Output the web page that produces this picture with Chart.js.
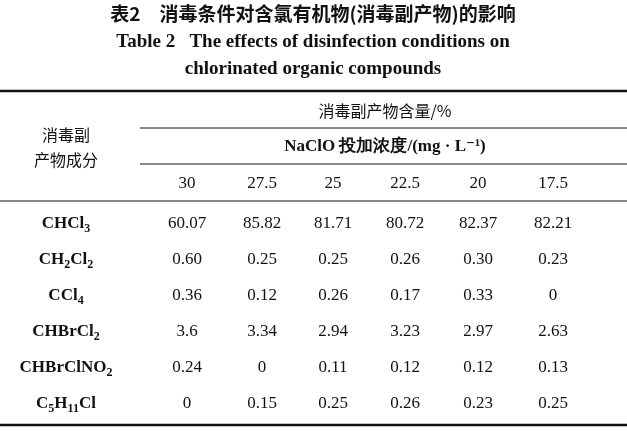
<!DOCTYPE html>
<html><head><meta charset="utf-8">
<script src="https://cdn.jsdelivr.net/npm/chart.js@4"></script>
<style>html,body{margin:0;padding:0;background:#fff}#c{display:block}</style>
</head><body>
<div style="width:627px;height:441px"><canvas id="c"></canvas></div>
<script>
let titleCn = "表2　消毒条件对含氯有机物(消毒副产物)的影响";
let titleEn1 = "Table 2   The effects of disinfection conditions on";
let titleEn2 = "chlorinated organic compounds";
let headGroup = "消毒副产物含量/%";
let headDose = "NaClO 投加浓度/(mg · L⁻¹)";
let headLeft = ["消毒副", "产物成分"];
let doses = ["30", "27.5", "25", "22.5", "20", "17.5"];
// compound names as [text, isSubscript] parts
let compounds = [
  [["CHCl", 0], ["3", 1]],
  [["CH", 0], ["2", 1], ["Cl", 0], ["2", 1]],
  [["CCl", 0], ["4", 1]],
  [["CHBrCl", 0], ["2", 1]],
  [["CHBrClNO", 0], ["2", 1]],
  [["C", 0], ["5", 1], ["H", 0], ["11", 1], ["Cl", 0]]
];
let values = [
  ["60.07", "85.82", "81.71", "80.72", "82.37", "82.21"],
  ["0.60", "0.25", "0.25", "0.26", "0.30", "0.23"],
  ["0.36", "0.12", "0.26", "0.17", "0.33", "0"],
  ["3.6", "3.34", "2.94", "3.23", "2.97", "2.63"],
  ["0.24", "0", "0.11", "0.12", "0.12", "0.13"],
  ["0", "0.15", "0.25", "0.26", "0.23", "0.25"]
];

// layout (scale units = page pixels)
const colX = [187, 262, 333, 405, 478, 553];
const rowY = [224, 260, 296, 332, 368, 404];
const serif = "'Liberation Serif', 'DejaVu Serif', serif";
const cjk = "'Noto Sans CJK SC', sans-serif";

const tablePlugin = {
  id: "table",
  afterDraw(chart) {
    const ctx = chart.ctx, xs = chart.scales.x, ys = chart.scales.y;
    const X = v => xs.getPixelForValue(v), Y = v => ys.getPixelForValue(v);
    ctx.save();
    ctx.fillStyle = "#111"; ctx.strokeStyle = "#111";
    ctx.textAlign = "center"; ctx.textBaseline = "middle";
    ctx.font = "bold 19px " + cjk;
    ctx.fillText(titleCn, X(313), Y(14));
    ctx.font = "bold 19px " + serif;
    ctx.fillText(titleEn1, X(313), Y(42));
    ctx.fillText(titleEn2, X(313), Y(69));
    function hline(y, x0, x1, w) {
      ctx.lineWidth = w; ctx.beginPath();
      ctx.moveTo(X(x0), Y(y)); ctx.lineTo(X(x1), Y(y)); ctx.stroke();
    }
    hline(91, 0, 627, 2.5);
    hline(128, 140, 627, 1);
    hline(164, 140, 627, 1);
    hline(201, 0, 627, 1.2);
    hline(425, 0, 627, 2.5);
    ctx.font = "16px " + cjk;
    ctx.fillText(headGroup, X(385), Y(111));
    ctx.fillText(headLeft[0], X(66), Y(135));
    ctx.fillText(headLeft[1], X(66), Y(160));
    ctx.font = "bold 17px " + serif;
    ctx.fillText(headDose, X(385), Y(147));
    ctx.font = "17px " + serif;
    doses.forEach((d, i) => ctx.fillText(d, X(colX[i]), Y(184)));
    compounds.forEach((parts, r) => {
      const big = "bold 17px " + serif, small = "bold 12px " + serif;
      let w = 0;
      parts.forEach(p => { ctx.font = p[1] ? small : big; w += ctx.measureText(p[0]).width; });
      let x = X(66) - w / 2;
      ctx.textAlign = "left";
      parts.forEach(p => {
        ctx.font = p[1] ? small : big;
        ctx.fillText(p[0], x, Y(rowY[r]) + (p[1] ? 5 : 0));
        x += ctx.measureText(p[0]).width;
      });
      ctx.textAlign = "center";
      ctx.font = "17px " + serif;
      values[r].forEach((v, i) => ctx.fillText(v, X(colX[i]), Y(rowY[r])));
    });
    ctx.restore();
  }
};

new Chart(document.getElementById("c"), {
  type: "scatter",
  data: { datasets: [{ data: [], pointRadius: 0 }] },
  options: {
    responsive: true, maintainAspectRatio: false, animation: false,
    layout: { padding: 0 },
    plugins: { legend: { display: false }, tooltip: { enabled: false } },
    scales: {
      x: { type: "linear", min: 0, max: 627, display: false },
      y: { type: "linear", min: 0, max: 441, reverse: true, display: false }
    }
  },
  plugins: [tablePlugin]
});
</script>
</body></html>
